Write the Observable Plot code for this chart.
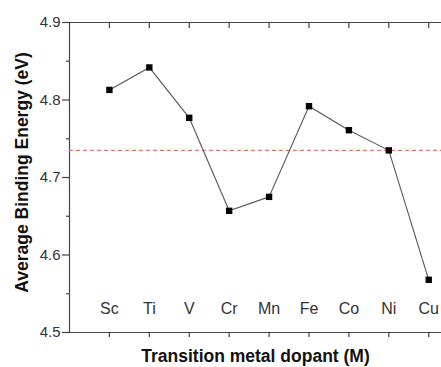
<!DOCTYPE html>
<html>
<head>
<meta charset="utf-8">
<script src="https://cdn.jsdelivr.net/npm/d3@7"></script>
<script src="https://cdn.jsdelivr.net/npm/@observablehq/plot@0.6"></script>
<style>
  html, body { margin: 0; padding: 0; background: #fff; }
  svg { font-family: "Liberation Sans", Arial, sans-serif; }
</style>
</head>
<body>
<div id="chart"></div>
<script>
const dopants = ["Sc", "Ti", "V", "Cr", "Mn", "Fe", "Co", "Ni", "Cu"];
const bindingEnergy = [4.813, 4.842, 4.777, 4.657, 4.675, 4.792, 4.761, 4.735, 4.568];
const referenceEnergy = 4.735;
const yTicks = [4.5, 4.6, 4.7, 4.8, 4.9];
const yMinorTicks = [4.55, 4.65, 4.75, 4.85];

const data = dopants.map((d, i) => ({dopant: d, pos: i + 1, energy: bindingEnergy[i]}));
const xTicks = data.map(d => d.pos);

const axisColor = "#444";

const chart = Plot.plot({
  width: 441,
  height: 367,
  marginLeft: 69,
  marginRight: 0,
  marginTop: 22,
  marginBottom: 35,
  style: {fontFamily: "'Liberation Sans', Arial, sans-serif", background: "#fff"},
  x: {domain: [0, 9.32], axis: null},
  y: {domain: [4.5, 4.9], axis: null},
  marks: [
    // frame lines
    Plot.ruleY([4.9], {stroke: axisColor, strokeWidth: 1.2}),
    Plot.ruleY([4.5], {stroke: axisColor, strokeWidth: 1.2}),
    Plot.ruleX([0], {stroke: axisColor, strokeWidth: 1.2}),
    // bottom ticks (outward)
    Plot.axisX({anchor: "bottom", ticks: xTicks, tickSize: 5, tickFormat: null, text: null, label: null, stroke: axisColor, strokeWidth: 1.2}),
    // top ticks (inward)
    Plot.axisX({anchor: "top", ticks: xTicks, tickSize: 5, dy: 5, tickFormat: null, text: null, label: null, stroke: axisColor, strokeWidth: 1.2}),
    // left axis
    Plot.axisY({anchor: "left", ticks: yMinorTicks, tickSize: 3, tickFormat: null, text: null, label: null, stroke: axisColor, strokeWidth: 1.2}),
    Plot.axisY({anchor: "left", ticks: yTicks, tickSize: 7, tickPadding: 2, tickFormat: d3.format(".1f"),
      fontSize: 15, fill: "#333", stroke: axisColor, strokeWidth: 1.2, label: null}),
    // reference dashed line
    Plot.ruleY([referenceEnergy], {stroke: "#d9806a", strokeWidth: 1.1, strokeDasharray: "4,3"}),
    // series
    Plot.line(data, {x: "pos", y: "energy", stroke: "#555", strokeWidth: 1.1}),
    Plot.dot(data, {x: "pos", y: "energy", symbol: "square", r: 3.6, fill: "#000", stroke: "none"}),
    // category labels inside plot
    Plot.text(data, {x: "pos", text: "dopant", frameAnchor: "bottom", dy: -19, lineAnchor: "bottom", fontSize: 16, fill: "#333"}),
    // axis titles
    Plot.text(["Transition metal dopant (M)"], {frameAnchor: "bottom", dy: 29, lineAnchor: "bottom", fontSize: 17.5, fontWeight: "bold", fill: "#111"}),
    Plot.text(["Average Binding Energy (eV)"], {frameAnchor: "left", textAnchor: "middle", dx: -47, dy: -5, rotate: -90, fontSize: 17.5, fontWeight: "bold", fill: "#111"})
  ]
});
document.getElementById("chart").appendChild(chart);
</script>
</body>
</html>
